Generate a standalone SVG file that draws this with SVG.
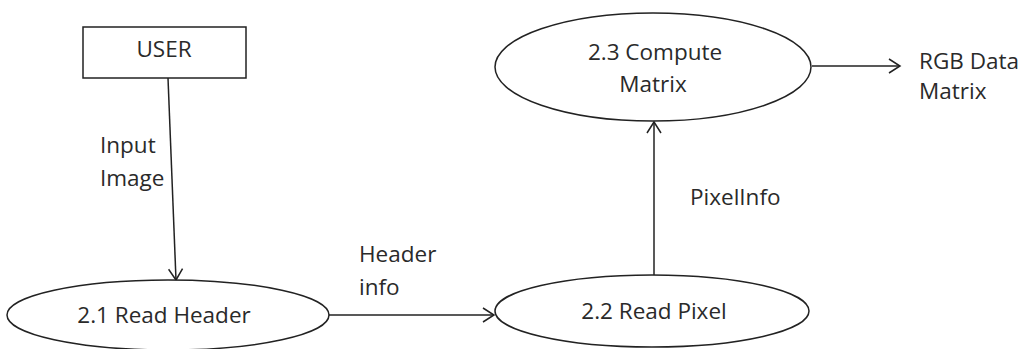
<svg xmlns="http://www.w3.org/2000/svg" width="1021" height="349" viewBox="0 0 1021 349">
<style>
text{font-family:"Open Sans","Liberation Sans",sans-serif;font-size:22.5px;fill:#2a2a2a}
.c{text-anchor:middle}
.shape{fill:#fff;stroke:#222;stroke-width:1.5}
.conn{stroke:#222;stroke-width:1.5;fill:none}
</style>
<defs>
<marker id="arr" markerUnits="userSpaceOnUse" markerWidth="14" markerHeight="16" refX="12" refY="8" orient="auto">
<path d="M1,1 L12,8 L1,15" fill="none" stroke="#222" stroke-width="1.5"/>
</marker>
</defs>
<rect width="1021" height="349" fill="#fff"/>
<g id="connectors">
<line class="conn" x1="168" y1="78" x2="176" y2="280" marker-end="url(#arr)"/>
<line class="conn" x1="328" y1="315" x2="494" y2="315" marker-end="url(#arr)"/>
<line class="conn" x1="654" y1="275" x2="654" y2="122" marker-end="url(#arr)"/>
<line class="conn" x1="812" y1="66" x2="900" y2="66" marker-end="url(#arr)"/>
<text x="100" y="153">Input</text>
<text x="100" y="186">Image</text>
<text x="359" y="262">Header</text>
<text x="359" y="295">info</text>
<text x="690" y="205">PixelInfo</text>
</g>
<g id="user">
<rect class="shape" x="83" y="27" width="163" height="51"/>
<text class="c" x="164" y="57">USER</text>
</g>
<g id="n21">
<ellipse class="shape" cx="168" cy="315" rx="161" ry="35"/>
<text class="c" x="164" y="323">2.1 Read Header</text>
</g>
<g id="n22">
<ellipse class="shape" cx="652" cy="311" rx="157" ry="36"/>
<text class="c" x="654" y="319">2.2 Read Pixel</text>
</g>
<g id="n23">
<ellipse class="shape" cx="653" cy="67" rx="158" ry="54"/>
<text class="c" x="655" y="60">2.3 Compute</text>
<text class="c" x="653" y="92">Matrix</text>
</g>
<g id="out">
<text x="919" y="69">RGB Data</text>
<text x="919" y="99">Matrix</text>
</g>
</svg>
